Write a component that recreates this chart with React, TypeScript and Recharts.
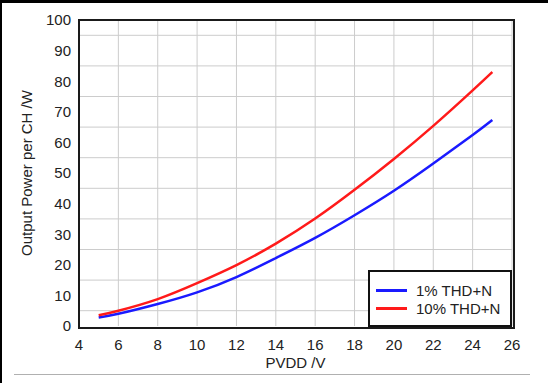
import React from 'react';
import {
  LineChart,
  Line,
  XAxis,
  YAxis,
  CartesianGrid,
  Label,
} from 'recharts';

// PVDD supply voltage (V) and output power per channel (W)
const pvdd = [5, 6, 8, 10, 12, 14, 16, 18, 20, 22, 24, 25];
const power1pct = [2.8, 4.0, 7.2, 11.0, 16.0, 22.2, 28.8, 36.2, 44.2, 53.1, 62.4, 67.3];
const power10pct = [3.5, 5.0, 8.8, 14.0, 19.9, 26.9, 35.1, 44.5, 54.6, 65.4, 77.0, 83.0];

const xTicks = [4, 6, 8, 10, 12, 14, 16, 18, 20, 22, 24, 26];
const yTicks = [0, 10, 20, 30, 40, 50, 60, 70, 80, 90, 100];
const yGrid = [5, 10, 15, 20, 25, 30, 35, 40, 45, 50, 55, 60, 65, 70, 75, 80, 85, 90, 95];

const series = [
  { key: 'thd1', name: '1% THD+N', color: '#1a1aff' },
  { key: 'thd10', name: '10% THD+N', color: '#ff1a1a' },
];

const data = pvdd.map((v, i) => ({ pvdd: v, thd1: power1pct[i], thd10: power10pct[i] }));

const FONT = '"Liberation Sans", Arial, sans-serif';
const W = 548;
const H = 383;
const margin = { top: 20, right: 36, left: 0, bottom: 0 };
const yAxisWidth = 79;
const xAxisHeight = 57;

function LegendBox({ left, top }: { left: number; top: number }) {
  return (
    <div
      style={{
        position: 'absolute',
        left,
        top,
        boxSizing: 'border-box',
        width: 144,
        height: 57,
        border: '2px solid #111',
        background: '#fff',
        padding: '9px 0 0 6px',
        fontFamily: FONT,
        fontSize: 15,
        color: '#222',
      }}
    >
      {series.map((s) => (
        <div key={s.key} style={{ display: 'flex', alignItems: 'center', height: 18 }}>
          <span style={{ display: 'inline-block', width: 31, height: 3, background: s.color, marginRight: 9 }} />
          <span>{s.name}</span>
        </div>
      ))}
    </div>
  );
}

export default function App() {
  const plotLeft = margin.left + yAxisWidth;
  const plotTop = margin.top;
  const plotW = W - plotLeft - margin.right;
  const plotH = H - margin.top - margin.bottom - xAxisHeight;

  return (
    <div style={{ position: 'absolute', left: 0, top: 0, width: W, height: H, background: '#fff', overflow: 'hidden' }}>
      <LineChart width={W} height={H} data={data} margin={margin}>
        <CartesianGrid
          horizontalValues={yGrid}
          verticalValues={xTicks}
          horizontal={{ stroke: '#d2d2d2', strokeWidth: 2 }}
          vertical={{ stroke: '#9a9a9a', strokeWidth: 1 }}
        />
        <XAxis
          dataKey="pvdd"
          type="number"
          domain={[4, 26]}
          ticks={xTicks}
          height={xAxisHeight}
          axisLine={false}
          tickLine={false}
          tickMargin={7}
          tick={{ fontSize: 15, fill: '#222', fontFamily: FONT }}
        >
          <Label
            content={({ viewBox }: any) => (
              <text
                x={viewBox.x + viewBox.width / 2}
                y={viewBox.y + 42}
                textAnchor="middle"
                fontSize={15}
                fill="#222"
                fontFamily={FONT}
              >
                PVDD /V
              </text>
            )}
          />
        </XAxis>
        <YAxis
          type="number"
          domain={[0, 100]}
          ticks={yTicks}
          width={yAxisWidth}
          axisLine={false}
          tickLine={false}
          tick={{ fontSize: 15, fill: '#222', fontFamily: FONT }}
        >
          <Label
            content={({ viewBox }: any) => {
              const cx = viewBox.x + 26;
              const cy = viewBox.y + viewBox.height / 2;
              return (
                <text
                  x={cx}
                  y={cy}
                  transform={`rotate(-90 ${cx} ${cy})`}
                  textAnchor="middle"
                  dominantBaseline="central"
                  fontSize={15}
                  fill="#222"
                  fontFamily={FONT}
                >
                  Output Power per CH /W
                </text>
              );
            }}
          />
        </YAxis>
        {series.map((s) => (
          <Line
            key={s.key}
            type="natural"
            dataKey={s.key}
            name={s.name}
            stroke={s.color}
            strokeWidth={2.5}
            dot={false}
            isAnimationActive={false}
          />
        ))}
      </LineChart>
      {/* plot frame */}
      <div
        style={{
          position: 'absolute',
          left: plotLeft - 1,
          top: plotTop - 1,
          width: plotW,
          height: plotH,
          border: '2px solid #1a1a1a',
          pointerEvents: 'none',
        }}
      />
      <LegendBox left={368} top={270} />
      {/* page border and footer rule */}
      <div style={{ position: 'absolute', left: 0, top: 0, width: W, height: 3, background: '#000' }} />
      <div style={{ position: 'absolute', left: 0, top: 0, width: 2, height: H, background: '#000' }} />
      <div style={{ position: 'absolute', left: 14, top: 374, width: 516, height: 1, background: '#b0b0b0' }} />
    </div>
  );
}
